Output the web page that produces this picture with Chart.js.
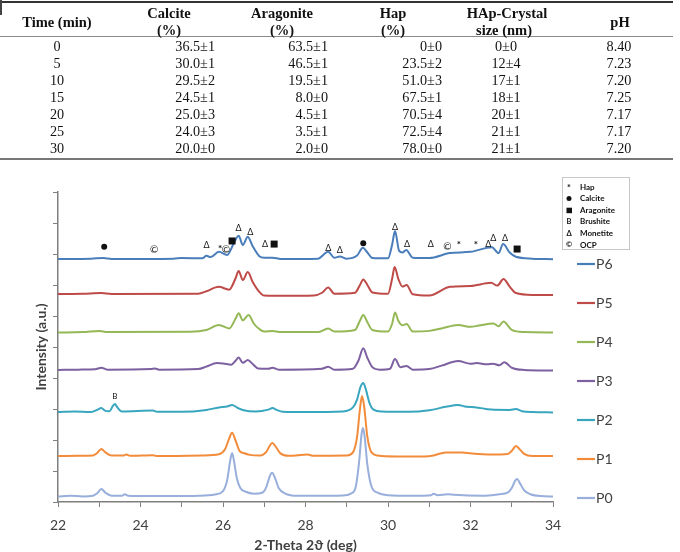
<!DOCTYPE html>
<html>
<head>
<meta charset="utf-8">
<script src="https://cdn.jsdelivr.net/npm/chart.js@4"></script>
<style>
  html, body { margin: 0; padding: 0; background: #fff; }
  #wrap { position: relative; width: 680px; height: 552px; overflow: hidden; }
  #c { position: absolute; left: 0; top: 0; }
  .t { position: absolute; font-family: "Liberation Serif", "Times New Roman", serif; color: #111; white-space: nowrap; line-height: 1; }
  .h { font-weight: bold; font-size: 14.5px; }
  .d { font-size: 14.2px; }
  .ctr { transform: translate(-50%, -50%); }
  .rt { transform: translate(-100%, -50%); }
  .ln { position: absolute; left: 0; width: 673px; }
</style>
</head>
<body>
<div id="wrap">
  <canvas id="c" width="680" height="552"></canvas>
  <div id="table"></div>
</div>
<script>
// ---------------- table data ----------------
const timeMin   = ["0", "5", "10", "15", "20", "25", "30"];
const calcite   = ["36.5±1", "30.0±1", "29.5±2", "24.5±1", "25.0±3", "24.0±3", "20.0±0"];
const aragonite = ["63.5±1", "46.5±1", "19.5±1", "8.0±0", "4.5±1", "3.5±1", "2.0±0"];
const hap       = ["0±0", "23.5±2", "51.0±3", "67.5±1", "70.5±4", "72.5±4", "78.0±0"];
const crystal   = ["0±0", "12±4", "17±1", "18±1", "20±1", "21±1", "21±1"];
const pH        = ["8.40", "7.23", "7.20", "7.25", "7.17", "7.17", "7.20"];

// ---------------- XRD data: [2-theta, intensity (a.u., offset)] ----------------
const p0 = [[22,0.18],[22.3,0.2],[22.6,0.18],[22.85,0.2],[22.95,0.28],[23.05,0.42],[23.15,0.3],[23.3,0.2],[23.55,0.2],[23.62,0.25],[23.7,0.2],[24.2,0.19],[24.8,0.19],[25.4,0.2],[25.8,0.24],[26.0,0.35],[26.1,0.7],[26.17,1.3],[26.22,1.58],[26.27,1.3],[26.33,0.8],[26.42,0.45],[26.55,0.33],[26.75,0.27],[26.95,0.3],[27.05,0.48],[27.13,0.82],[27.19,0.94],[27.26,0.78],[27.35,0.45],[27.5,0.28],[27.8,0.2],[28.3,0.2],[28.9,0.21],[29.1,0.27],[29.22,0.5],[29.3,1.3],[29.36,2.2],[29.39,2.39],[29.43,2.15],[29.5,1.2],[29.6,0.5],[29.75,0.3],[30.0,0.22],[30.6,0.2],[31.05,0.22],[31.1,0.27],[31.2,0.22],[31.45,0.25],[31.6,0.23],[32.3,0.2],[32.7,0.25],[32.9,0.3],[33.0,0.45],[33.08,0.68],[33.13,0.74],[33.2,0.6],[33.3,0.38],[33.45,0.25],[33.7,0.19],[34,0.18]];
const p1 = [[22,1.48],[22.5,1.49],[22.85,1.5],[22.95,1.58],[23.05,1.71],[23.15,1.6],[23.3,1.5],[23.6,1.5],[23.65,1.53],[23.75,1.49],[24.3,1.51],[24.4,1.48],[25.5,1.5],[25.9,1.54],[26.05,1.7],[26.15,2.05],[26.22,2.23],[26.3,2.0],[26.4,1.65],[26.5,1.58],[26.65,1.52],[26.9,1.5],[27.05,1.62],[27.15,1.85],[27.2,1.9],[27.28,1.78],[27.4,1.56],[27.6,1.49],[28.05,1.53],[28.2,1.49],[29.0,1.5],[29.15,1.6],[29.25,2.1],[29.32,3.0],[29.37,3.42],[29.42,3.1],[29.5,2.1],[29.6,1.6],[29.75,1.5],[30.2,1.47],[30.9,1.47],[31.1,1.5],[31.4,1.6],[31.8,1.6],[32.0,1.57],[32.5,1.53],[32.9,1.55],[33.02,1.68],[33.1,1.81],[33.18,1.72],[33.3,1.55],[33.5,1.48],[34,1.48]];
const p2 = [[22,2.9],[22.4,2.92],[22.8,2.9],[22.95,2.97],[23.05,3.03],[23.15,2.94],[23.25,2.93],[23.33,3.1],[23.38,3.16],[23.44,3.05],[23.55,2.92],[24.3,2.95],[24.4,2.91],[25.0,2.91],[25.6,2.97],[25.9,3.05],[26.1,3.08],[26.22,3.13],[26.35,3.04],[26.5,2.96],[26.8,2.92],[27.1,2.98],[27.2,3.03],[27.3,2.97],[27.45,2.91],[28.0,2.9],[28.9,2.92],[29.15,3.05],[29.25,3.3],[29.33,3.7],[29.4,3.84],[29.47,3.6],[29.55,3.2],[29.65,2.98],[29.85,2.92],[30.5,2.91],[31.0,2.96],[31.4,3.07],[31.7,3.13],[31.9,3.07],[32.1,3.06],[32.5,2.98],[32.95,2.97],[33.1,3.0],[33.25,2.93],[33.5,2.9],[34,2.89]];
const p3 = [[22,4.26],[22.5,4.27],[22.9,4.28],[23.05,4.33],[23.2,4.27],[24.25,4.29],[24.35,4.31],[24.45,4.27],[25.4,4.29],[25.6,4.37],[25.85,4.48],[26.0,4.47],[26.2,4.43],[26.3,4.55],[26.38,4.66],[26.48,4.49],[26.6,4.58],[26.72,4.45],[26.85,4.31],[27.1,4.3],[27.2,4.33],[27.35,4.27],[28.4,4.3],[28.55,4.36],[28.7,4.27],[29.15,4.3],[29.28,4.55],[29.4,4.96],[29.5,4.65],[29.62,4.35],[29.8,4.27],[30.05,4.3],[30.17,4.61],[30.3,4.35],[30.45,4.39],[30.6,4.27],[31.0,4.29],[31.3,4.4],[31.7,4.55],[32.0,4.46],[32.15,4.48],[32.4,4.44],[32.55,4.46],[32.7,4.41],[32.82,4.51],[33.0,4.33],[33.3,4.26],[34,4.24]];
const p4 = [[22,5.47],[22.6,5.48],[23.0,5.52],[23.2,5.48],[25.2,5.49],[25.6,5.55],[25.9,5.71],[26.15,5.6],[26.3,5.9],[26.38,6.09],[26.48,5.86],[26.62,6.03],[26.75,5.75],[26.88,5.58],[27.0,5.5],[27.2,5.52],[27.4,5.48],[28.3,5.48],[28.55,5.6],[28.7,5.5],[29.2,5.55],[29.32,5.85],[29.4,6.03],[29.5,5.8],[29.62,5.55],[30.0,5.5],[30.1,5.75],[30.17,6.11],[30.25,5.85],[30.35,5.7],[30.45,5.74],[30.6,5.5],[31.0,5.52],[31.3,5.6],[31.7,5.71],[32.0,5.65],[32.2,5.69],[32.55,5.76],[32.68,5.67],[32.8,5.82],[33.0,5.55],[33.3,5.48],[34,5.47]];
const p5 = [[22,6.71],[22.6,6.72],[23.05,6.74],[23.3,6.71],[25.4,6.72],[25.6,6.8],[25.9,6.94],[26.15,6.85],[26.3,7.2],[26.38,7.45],[26.48,7.16],[26.6,7.42],[26.72,7.1],[26.88,6.78],[27.0,6.66],[27.5,6.65],[28.2,6.66],[28.4,6.75],[28.55,6.92],[28.7,6.72],[29.2,6.75],[29.32,7.0],[29.4,7.18],[29.5,7.0],[29.62,6.76],[30.0,6.72],[30.1,7.2],[30.16,7.58],[30.25,7.2],[30.35,6.95],[30.45,7.0],[30.6,6.7],[31.0,6.66],[31.5,6.94],[32.0,6.97],[32.5,7.07],[32.65,6.98],[32.8,7.19],[32.95,6.95],[33.1,6.74],[33.5,6.68],[34,6.68]];
const p6 = [[22,7.84],[22.8,7.85],[23.1,7.87],[23.3,7.84],[24.8,7.85],[25.0,7.87],[25.5,7.86],[25.6,7.94],[25.7,7.9],[25.9,8.07],[26.1,7.97],[26.28,8.4],[26.38,8.59],[26.48,8.29],[26.6,8.56],[26.72,8.25],[26.88,7.93],[27.0,7.88],[27.2,7.88],[27.4,7.84],[28.3,7.85],[28.55,8.07],[28.7,7.88],[28.83,7.92],[29.0,7.85],[29.25,7.95],[29.39,8.2],[29.5,8.05],[29.62,7.87],[30.0,7.86],[30.1,8.3],[30.17,8.74],[30.27,8.1],[30.35,8.05],[30.44,8.13],[30.6,7.88],[31.0,7.87],[31.5,8.03],[32.0,8.07],[32.52,8.22],[32.68,8.03],[32.79,8.32],[32.95,8.05],[33.1,7.91],[33.5,7.85],[34,7.83]];

const seriesNames  = ["P0", "P1", "P2", "P3", "P4", "P5", "P6"];
const seriesData   = [p0, p1, p2, p3, p4, p5, p6];
const seriesColors = ["#98AEDB", "#F28C3B", "#38A6BF", "#7D60A0", "#94B855", "#BE4B48", "#4A7EBB"];

// phase markers on P6 / P2: [2-theta, intensity, symbol]
const markers = [
  [23.12,8.23,"●"],[24.33,8.13,"©"],[25.6,8.29,"Δ"],[25.93,8.23,"*"],[26.07,8.13,"©"],
  [26.22,8.42,"■"],[26.38,8.84,"Δ"],[26.66,8.71,"Δ"],[27.02,8.32,"Δ"],[27.24,8.32,"■"],
  [28.55,8.19,"Δ"],[28.83,8.13,"Δ"],[29.4,8.35,"●"],[30.17,8.87,"Δ"],[30.46,8.32,"Δ"],
  [31.04,8.32,"Δ"],[31.44,8.23,"©"],[31.72,8.35,"*"],[32.13,8.35,"*"],[32.43,8.32,"Δ"],
  [32.55,8.52,"Δ"],[32.84,8.52,"Δ"],[33.13,8.16,"■"],[23.38,3.42,"B"]
];
const phaseSymbols = ["*", "●", "■", "B", "Δ", "©"];
const phaseNames   = ["Hap", "Calcite", "Aragonite", "Brushite", "Monetite", "OCP"];

const xTicksMin = 22, xTicksMax = 34;

// ---------------- build table ----------------
(function buildTable() {
  const T = document.getElementById('table');
  function add(cls, text, x, y, anchor) {
    const d = document.createElement('div');
    d.className = 't ' + cls + ' ' + anchor;
    d.textContent = text;
    d.style.left = x + 'px';
    d.style.top = y + 'px';
    T.appendChild(d);
  }
  function line(y, h, color) {
    const d = document.createElement('div');
    d.className = 'ln';
    d.style.top = y + 'px'; d.style.height = h + 'px'; d.style.background = color;
    T.appendChild(d);
  }
  line(1, 2, '#333');
  const v = document.createElement('div');
  v.style.cssText = 'position:absolute;left:0;top:0;width:1.5px;height:15px;background:#444';
  T.appendChild(v);
  line(36, 1, '#8a8a8a');
  line(158, 2, '#777');
  add('h', 'Time (min)', 57, 22, 'ctr');
  add('h', 'Calcite', 169, 13, 'ctr'); add('h', '(%)', 169, 30, 'ctr');
  add('h', 'Aragonite', 282, 13, 'ctr'); add('h', '(%)', 282, 30, 'ctr');
  add('h', 'Hap', 393, 13, 'ctr'); add('h', '(%)', 393, 30, 'ctr');
  add('h', 'HAp-Crystal', 507, 13, 'ctr'); add('h', 'size (nm)', 504, 30, 'ctr');
  add('h', 'pH', 620, 22, 'ctr');
  const rowY0 = 46, rowStep = 17.05;
  for (let i = 0; i < timeMin.length; i++) {
    const y = rowY0 + i * rowStep;
    add('d', timeMin[i], 57, y, 'ctr');
    add('d', calcite[i], 215, y, 'rt');
    add('d', aragonite[i], 328, y, 'rt');
    add('d', hap[i], 442, y, 'rt');
    add('d', crystal[i], 506, y, 'ctr');
    add('d', pH[i], 619, y, 'ctr');
  }
})();

// ---------------- chart ----------------
const axisColor = '#7f7f7f';
const labelColor = '#404040';
const FONT = 'Lato, "Open Sans", sans-serif';

const overlay = {
  id: 'overlay',
  afterDatasetsDraw(chart) {
    const ctx = chart.ctx;
    const xs = chart.scales.x, ys = chart.scales.y;
    ctx.save();
    ctx.fillStyle = '#111';
    ctx.textAlign = 'center';
    ctx.textBaseline = 'middle';
    markers.forEach(([x, y, s]) => {
      const px = xs.getPixelForValue(x), py = ys.getPixelForValue(y);
      if (s === '●') { ctx.beginPath(); ctx.arc(px, py, 3, 0, Math.PI * 2); ctx.fill(); }
      else if (s === '■') { ctx.fillRect(px - 3.5, py - 3.5, 7, 7); }
      else if (s === 'Δ') { ctx.font = '9px ' + FONT; ctx.fillText('Δ', px, py); }
      else if (s === '*') { ctx.font = 'bold 10px ' + FONT; ctx.fillText('*', px, py + 2); }
      else if (s === '©') { ctx.font = '10px ' + FONT; ctx.fillText('©', px, py); }
      else if (s === 'B') { ctx.font = '8px ' + FONT; ctx.fillText('B', px, py); }
    });
    ctx.strokeStyle = '#c8c8c8'; ctx.lineWidth = 1;
    ctx.strokeRect(562.5, 177.5, 67, 72);
    ctx.textAlign = 'left';
    phaseNames.forEach((name, i) => {
      const y = 187 + i * 11.6;
      const s = phaseSymbols[i];
      const sx = 569;
      ctx.fillStyle = '#111';
      if (s === '●') { ctx.beginPath(); ctx.arc(sx, y, 2.5, 0, Math.PI * 2); ctx.fill(); }
      else if (s === '■') { ctx.fillRect(sx - 2.5, y - 2.5, 5.5, 5.5); }
      else { ctx.textAlign = 'center'; ctx.font = (s === '*' ? 'bold 9px ' : 'bold 7.5px ') + FONT; ctx.fillText(s, sx, s === '*' ? y + 1.5 : y); ctx.textAlign = 'left'; }
      ctx.font = 'bold 8px ' + FONT;
      ctx.fillText(name, 580, y);
    });
    ctx.font = '14px ' + FONT;
    ctx.textBaseline = 'middle';
    for (let k = 0; k < seriesNames.length; k++) {
      const idx = seriesNames.length - 1 - k;
      const y = 264 + k * 39;
      ctx.strokeStyle = seriesColors[idx]; ctx.lineWidth = 2.2;
      ctx.beginPath(); ctx.moveTo(577, y); ctx.lineTo(595, y); ctx.stroke();
      ctx.fillStyle = labelColor;
      ctx.fillText(seriesNames[idx], 596, y);
    }
    ctx.restore();
  }
};

new Chart(document.getElementById('c'), {
  type: 'line',
  data: {
    datasets: seriesData.map((d, i) => ({
      label: seriesNames[i],
      data: d.map(([x, y]) => ({ x, y })),
      borderColor: seriesColors[i],
      borderWidth: 2,
      pointRadius: 0,
      fill: false,
      cubicInterpolationMode: 'monotone'
    }))
  },
  options: {
    responsive: false,
    animation: false,
    events: [],
    layout: { padding: { top: 192, right: 127, left: 0, bottom: 0 } },
    plugins: { legend: { display: false }, tooltip: { enabled: false } },
    scales: {
      x: {
        type: 'linear', min: xTicksMin, max: xTicksMax,
        ticks: { stepSize: 1, autoSkip: false, maxRotation: 0, padding: 10, color: labelColor,
                 font: { family: FONT, size: 14 },
                 callback: v => (v % 2 === 0 ? String(v) : '') },
        grid: { drawOnChartArea: false, drawTicks: true, tickLength: 5, color: axisColor, lineWidth: 1 },
        border: { display: true, color: axisColor, width: 1.5 },
        title: { display: true, text: '2-Theta 2ϑ (deg)', color: labelColor,
                 font: { family: FONT, size: 14, weight: 'bold', lineHeight: 1 }, padding: { top: 0, bottom: 0 } },
        afterFit: s => { s.height = 50; }
      },
      y: {
        type: 'linear', min: 0, max: 10,
        ticks: { stepSize: 1, display: false },
        grid: { drawOnChartArea: false, drawTicks: true, tickLength: 5, color: axisColor, lineWidth: 1 },
        border: { display: true, color: axisColor, width: 1.5 },
        title: { display: true, text: 'Intensity (a.u.)', color: labelColor,
                 font: { family: FONT, size: 14, weight: 'bold', lineHeight: 1 }, padding: { top: 34, bottom: 0 } },
        afterFit: s => { s.width = 58; }
      }
    }
  },
  plugins: [overlay]
});
</script>
</body>
</html>
